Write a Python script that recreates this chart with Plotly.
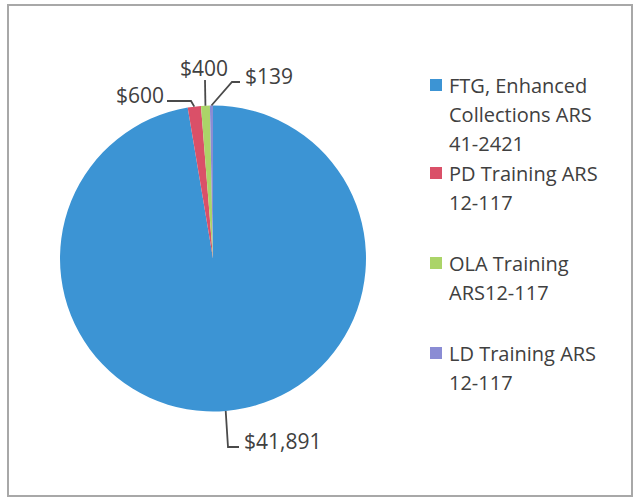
import math
import plotly.graph_objects as go

# ---- data ----
categories = ["FTG, Enhanced Collections ARS 41-2421",
              "PD Training ARS 12-117",
              "OLA Training ARS12-117",
              "LD Training ARS 12-117"]
legend_lines = [["FTG, Enhanced", "Collections ARS", "41-2421"],
                ["PD Training ARS", "12-117"],
                ["OLA Training", "ARS12-117"],
                ["LD Training ARS", "12-117"]]
values = [41891, 600, 400, 139]
colors = ["#3C94D4", "#DA5068", "#ABD468", "#8A8CD4"]

# ---- layout constants (pixels) ----
W, H = 634, 498
CX, CY, R = 213, 258.5, 153
FONT = "Open Sans"
FS = 20
FS_LBL = 21
TXT = "#404040"


def px(x):
    return x / W


def py(y):
    return 1 - y / H


fig = go.Figure(go.Pie(
    labels=categories, values=values, sort=False, direction="clockwise",
    rotation=0, marker=dict(colors=colors, line=dict(width=0)),
    textinfo="none", hoverinfo="label+value", showlegend=False,
    domain=dict(x=[px(CX - R), px(CX + R)], y=[py(CY + R), py(CY - R)]),
))

# anchors on the rim from data
total = sum(values)
anchors = []
cum = 0
for v in values:
    th = 2 * math.pi * (cum + v / 2) / total
    anchors.append((CX + R * math.sin(th), CY - R * math.cos(th)))
    cum += v

# label placement: (label x, label y, xanchor, route points after anchor)
label_place = [
    (242, 441, "left", [(228, 447), (239, 447)]),
    (166, 95, "right", [(191, 101), (167, 101)]),
    (204, 68, "center", [(205, 80)]),
    (243, 76, "left", [(232, 82), (240, 82)]),
]

annotations = []
shapes = []
for i, v in enumerate(values):
    lx, ly, xa, route = label_place[i]
    annotations.append(dict(
        x=px(lx), y=py(ly), xref="paper", yref="paper", text=f"${v:,}",
        showarrow=False, xanchor=xa, yanchor="middle",
        font=dict(family=FONT, size=FS_LBL, color=TXT)))
    pts = [anchors[i]] + route
    path = "M " + " L ".join(f"{px(x):.5f},{py(y):.5f}" for x, y in pts)
    shapes.append(dict(type="path", xref="paper", yref="paper", path=path,
                       line=dict(color="#4a4a4a", width=1.8)))

# legend built from categories
item_y = [85, 173, 263, 353]
LINE = 29.3
for i, lines in enumerate(legend_lines):
    y0 = item_y[i]
    shapes.append(dict(type="rect", xref="paper", yref="paper",
                       x0=px(430), x1=px(442), y0=py(y0 + 6), y1=py(y0 - 6),
                       fillcolor=colors[i], line=dict(width=0)))
    for j, t in enumerate(lines):
        annotations.append(dict(
            x=px(447), y=py(y0 + j * LINE), xref="paper", yref="paper",
            text=t, showarrow=False, xanchor="left", yanchor="middle",
            font=dict(family=FONT, size=FS, color=TXT)))

# chart frame
shapes.append(dict(type="rect", xref="paper", yref="paper",
                   x0=px(8), x1=px(632), y0=py(496), y1=py(5),
                   line=dict(color="#a8a8a8", width=2)))

fig.update_layout(width=W, height=H, margin=dict(l=0, r=0, t=0, b=0),
                  paper_bgcolor="white", plot_bgcolor="white",
                  annotations=annotations, shapes=shapes, showlegend=False)
fig.write_html("out.html", config={"displayModeBar": False},
               post_script="document.body.style.margin='0';"
                           "document.body.style.padding='0';")
